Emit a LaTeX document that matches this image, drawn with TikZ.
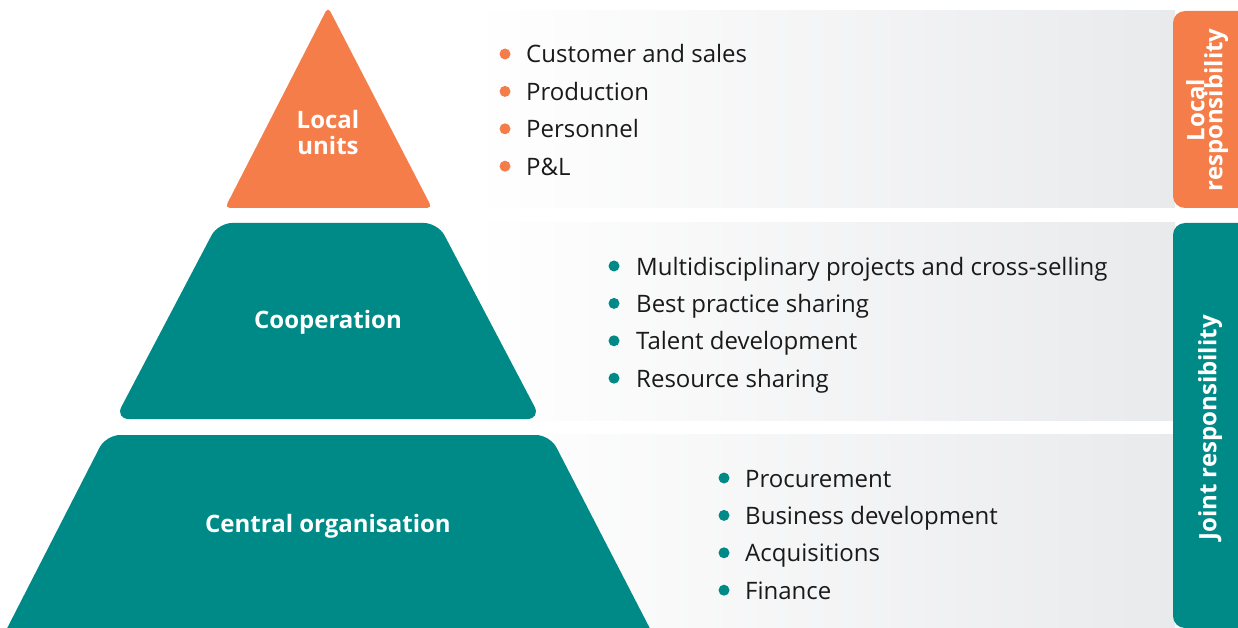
\documentclass[tikz,border=0pt]{standalone}
\usepackage{fontspec}
\setmainfont{Open Sans}
\usepackage{tikz}
\usetikzlibrary{positioning}

\definecolor{unitorange}{RGB}{244,125,74}
\definecolor{coopteal}{RGB}{0,138,135}
\definecolor{bandgrey}{RGB}{233,234,236}
\definecolor{itemtext}{RGB}{26,26,26}

\tikzset{
	band/.style={left color=white, right color=bandgrey},
	level/.style={text=white, font=\fontsize{24}{27}\selectfont\bfseries, align=center},
	item/.style={anchor=base west, text=itemtext, font=\fontsize{24}{28}\selectfont, inner sep=0pt},
	tabtext/.style={text=white, font=\fontsize{24}{24}\selectfont\bfseries, align=center, rotate=90},
}

\begin{document}
\begin{tikzpicture}[x=1pt, y=-1pt]
	\useasboundingbox (0,0) rectangle (1238,628);
	\clip (0,0) rectangle (1238,628);
	% background bands
	\shade[band] (470,11) rectangle (1175,208);
	\shade[band] (470,223) rectangle (1175,420);
	\shade[band] (470,434) rectangle (1175,640);
	% pyramid
	\fill[unitorange, rounded corners=5pt] (328,7) -- (432,208) -- (225,208) -- cycle;
	\fill[coopteal, rounded corners=14pt] (218,223) -- (438,223) -- (541,419) -- (115,419) -- cycle;
	\fill[coopteal, rounded corners=14pt] (106,435) -- (550,435) -- (660,648) -- (-3,648) -- cycle;
	\node[level] (local) at (328,133) {Local\\[-1pt]units};
	\node[level] (coop) at (328,322) {Cooperation};
	\node[level] (central) at (328,526) {Central organisation};
	% side tabs
	\fill[unitorange, rounded corners=12pt] (1173,11) rectangle (1260,208);
	\fill[coopteal, rounded corners=12pt] (1173,223) rectangle (1260,628);
	\node[tabtext] (localresp) at (1207,110) {Local\\[-6pt]responsibility};
	\node[tabtext] (jointresp) at (1210,428) {Joint responsibility};
	% bullet lists
	\foreach \txt [count=\i] in {Customer and sales, Production, Personnel, P\&L} {
		\fill[unitorange] (505,{63+37.4*(\i-1)-9}) circle (5.5pt);
		\node[item] (local\i) at (526,{63+37.4*(\i-1)}) {\txt};
	}
	\foreach \txt [count=\i] in {Multidisciplinary projects and cross-selling, Best practice sharing, Talent development, Resource sharing} {
		\fill[coopteal] (614,{275+37.4*(\i-1)-9}) circle (5.5pt);
		\node[item] (coop\i) at (636,{275+37.4*(\i-1)}) {\txt};
	}
	\foreach \txt [count=\i] in {Procurement, Business development, Acquisitions, Finance} {
		\fill[coopteal] (724,{487+37.4*(\i-1)-9}) circle (5.5pt);
		\node[item] (central\i) at (745,{487+37.4*(\i-1)}) {\txt};
	}
\end{tikzpicture}
\end{document}
